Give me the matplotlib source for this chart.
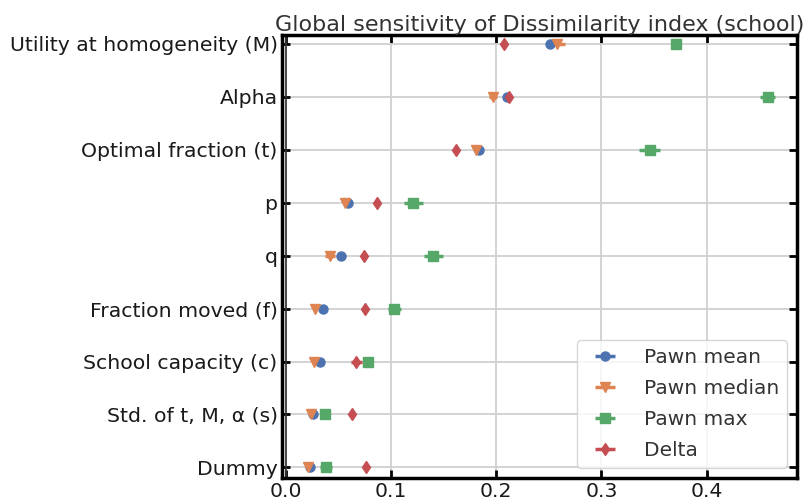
import numpy as np
import matplotlib
matplotlib.use("Agg")
import matplotlib.pyplot as plt

# parameters, bottom to top
params = ['Dummy', 'Std. of t, M, α (s)', 'School capacity (c)', 'Fraction moved (f)',
          'q', 'p', 'Optimal fraction (t)', 'Alpha', 'Utility at homogeneity (M)']

pawn_mean = [0.023, 0.026, 0.032, 0.035, 0.052, 0.059, 0.184, 0.210, 0.251]
pawn_mean_err = [0.001, 0.001, 0.001, 0.001, 0.001, 0.001, 0.001, 0.001, 0.001]
pawn_median = [0.021, 0.024, 0.027, 0.028, 0.042, 0.056, 0.181, 0.197, 0.258]
pawn_median_err = [0.002, 0.002, 0.002, 0.002, 0.005, 0.002, 0.002, 0.004, 0.007]
pawn_max = [0.038, 0.037, 0.078, 0.103, 0.140, 0.121, 0.346, 0.458, 0.371]
pawn_max_err = [0.006, 0.003, 0.003, 0.006, 0.009, 0.009, 0.010, 0.007, 0.002]
delta = [0.076, 0.063, 0.067, 0.075, 0.074, 0.087, 0.162, 0.212, 0.207]
delta_err = [0.001, 0.001, 0.005, 0.001, 0.001, 0.001, 0.001, 0.001, 0.001]

colors = ['#4C72B0', '#DD8452', '#55A868', '#C44E52']

fig = plt.figure(figsize=(8.05, 5.04), dpi=100)
ax = fig.add_axes([0.350, 0.0516, 0.640, 0.879])
y = np.arange(len(params))

series = [
    (pawn_mean, pawn_mean_err, 'o', 'Pawn mean'),
    (pawn_median, pawn_median_err, 'v', 'Pawn median'),
    (pawn_max, pawn_max_err, 's', 'Pawn max'),
    (delta, delta_err, 'd', 'Delta'),
]
for (vals, err, m, lab), c in zip(series, colors):
    ax.errorbar(vals, y, xerr=err, fmt=m, color=c, ms=6.5, elinewidth=2.5,
                capsize=0, label=lab, zorder=3)

ax.set_yticks(y)
ax.set_yticklabels(params, fontsize=14.7, color='#1a1a1a')
ax.set_xticks([0.0, 0.1, 0.2, 0.3, 0.4])
ax.set_xticklabels(['0.0', '0.1', '0.2', '0.3', '0.4'], fontsize=14.7, color='#1a1a1a')
ax.set_xlim(-0.004, 0.486)
ax.set_ylim(-0.2, 8.17)
ax.grid(True, color='#d0d0d0', lw=1.3, zorder=0)
ax.set_axisbelow(True)
ax.axvline(0, color='#333333', lw=1.2, zorder=1)
ax.tick_params(direction='in', length=6, width=2, top=True, right=True, pad=3)
for s in ax.spines.values():
    s.set_linewidth(2.5)
ax.set_title('Global sensitivity of Dissimilarity index (school)', fontsize=16, color='#333333', pad=3)
leg = ax.legend(loc='lower right', fontsize=14.5, handlelength=2.0, labelspacing=0.6,
                handletextpad=0.9, borderaxespad=0.5)
for t in leg.get_texts():
    t.set_color('#333333')

fig.savefig('out.png', dpi=100)
